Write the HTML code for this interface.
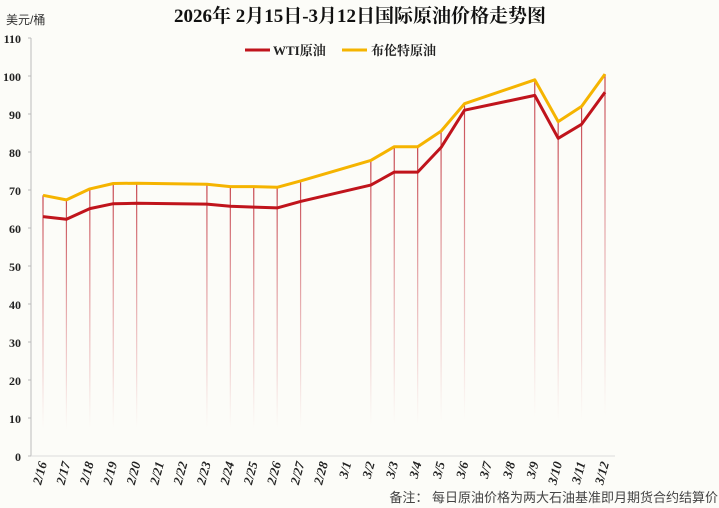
<!DOCTYPE html>
<html><head><meta charset="utf-8"><style>
body{margin:0;background:#fcfcf8;}
svg{display:block;font-family:"Liberation Serif","Noto Serif CJK SC",serif;}
</style></head><body>
<svg id="c" width="719" height="508" viewBox="0 0 719 508">
<defs>
<linearGradient id="fade" x1="0" y1="0" x2="0" y2="1">
<stop offset="0" stop-color="#c0303a" stop-opacity="0.9"/>
<stop offset="0.7" stop-color="#d87078" stop-opacity="0.25"/>
<stop offset="0.9" stop-color="#e0a0a0" stop-opacity="0"/>
</linearGradient>
</defs>
<rect width="719" height="508" fill="#fcfcf8"/>
<text x="360" y="22" text-anchor="middle" font-size="19" font-weight="bold" fill="#111">2026年 2月15日-3月12日国际原油价格走势图</text>
<text x="6" y="24" font-size="12" fill="#333" font-family="Liberation Sans,Noto Sans CJK SC,sans-serif">美元/桶</text>
<g>
<line x1="245" y1="50" x2="270" y2="50" stroke="#c0141c" stroke-width="3"/>
<text x="273" y="55" font-size="13" font-weight="bold" fill="#222">WTI原油</text>
<line x1="342" y1="50" x2="367" y2="50" stroke="#f5b400" stroke-width="3"/>
<text x="371" y="55" font-size="13" font-weight="bold" fill="#222">布伦特原油</text>
</g>
<line x1="31" y1="38" x2="31" y2="456" stroke="#bbb" stroke-width="1"/>
<line x1="31" y1="456" x2="615" y2="456" stroke="#ddd" stroke-width="1"/>
<g id="yt"></g><g id="xt"></g><g id="drops"></g><g id="lines"></g>
<text x="718" y="502" text-anchor="end" font-size="13" fill="#444" font-family="Liberation Sans,Noto Sans CJK SC,sans-serif">备注：  每日原油价格为两大石油基准即月期货合约结算价</text>
</svg>
<script>
const categories=["2/16","2/17","2/18","2/19","2/20","2/21","2/22","2/23","2/24","2/25","2/26","2/27","2/28","3/1","3/2","3/3","3/4","3/5","3/6","3/7","3/8","3/9","3/10","3/11","3/12"];
const wti=[63.0,62.3,65.1,66.4,66.5,null,null,66.3,65.7,65.5,65.3,67.0,null,null,71.3,74.7,74.7,81.2,91.0,null,null,94.9,83.6,87.3,95.7];
const brent=[68.6,67.4,70.3,71.7,71.8,null,null,71.5,70.9,70.9,70.7,72.4,null,null,77.8,81.4,81.4,85.5,92.7,null,null,99.0,88.0,92.0,100.5];
const yTicks=[0,10,20,30,40,50,60,70,80,90,100,110];
const NS="http://www.w3.org/2000/svg";
function y(v){return 456-v*3.8;}
function x(i){return 43+i*(562/(categories.length-1));}
function mk(t,a,p){const e=document.createElementNS(NS,t);for(const k in a)e.setAttribute(k,a[k]);p.appendChild(e);return e;}
const yt=document.getElementById('yt');
yTicks.forEach(v=>{
  const t=mk('text',{x:21,y:y(v)+5,'text-anchor':'end','font-size':12,'font-weight':'bold',fill:'#222'},yt);
  t.textContent=v;
  
  
  const l=mk('line',{x1:28,x2:31,y1:y(v),y2:y(v),stroke:'#bbb'},yt);
  
  
});
const xt=document.getElementById('xt');
categories.forEach((c,i)=>{
  const t=mk('text',{transform:`translate(${x(i)+4},${463}) rotate(-75)`,'text-anchor':'end','font-size':13,'font-weight':'bold','font-style':'italic',fill:'#222'},xt);
  t.textContent=c;
  
  
});
const drops=document.getElementById('drops');
brent.forEach((v,i)=>{
  if(v==null)return;
  const r=mk('rect',{x:x(i)-0.6,y:y(v),width:1.2,height:456-y(v),fill:'url(#fade)'},drops);
  
  
});
const lines=document.getElementById('lines');
function path(arr,color,name){
  const pts=[];arr.forEach((v,i)=>{if(v!=null)pts.push(x(i).toFixed(1)+','+y(v).toFixed(1));});
  const p=mk('polyline',{points:pts.join(' '),fill:'none',stroke:color,'stroke-width':3,'stroke-linejoin':'round'},lines);
  
  
}
path(brent,'#f5b400','brent-line');
path(wti,'#c0141c','wti-line');
</script>
</body></html>
